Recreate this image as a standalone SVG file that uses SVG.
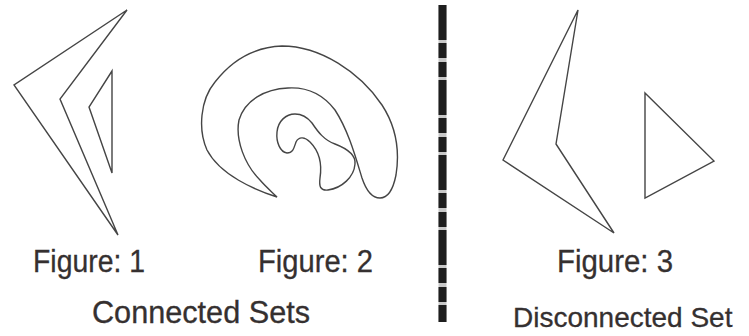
<svg xmlns="http://www.w3.org/2000/svg" width="749" height="336" viewBox="0 0 749 336">
  <style>
    .shape { fill: none; stroke: #454545; stroke-width: 1.4; stroke-linejoin: miter; }
    .label { font-family: "Liberation Sans", Arial, sans-serif; font-size: 31px; fill: #353030; stroke: #353030; stroke-width: 0.3; }
  </style>
  <rect width="749" height="336" fill="#ffffff"/>

  <g id="figure1">
    <polygon class="shape" points="127,10 14,85 118,235 60,99"/>
    <polygon class="shape" points="112,71 89,107 112,173"/>
  </g>

  <g id="figure2">
    <path class="shape" d="M277,197 C255,190 220,175 207,150 C198,130 200,100 215,82 C232,60 255,47 282,46 C320,46 360,72 382,105 C395,125 400,150 396,175 C393,190 387,198 380,198 C372,198 366,190 362,178 C355,155 348,130 335,110 C322,93 305,87 288,88 C265,89 245,100 239,120 C235,140 245,165 260,180 C266,187 272,192 277,197 Z"/>
    <path class="shape" d="M295,114 C303,114 308,118 312,123 C318,132 324,140 335,144 C348,149 356,155 355,164 C354,177 342,188 328,190 C320,191 319,186 320,178 C322,165 320,152 310,142 C305,137 299,136 296,142 C294,148 293,153 287,153 C280,152 276,142 277,132 C278,121 286,114 295,114 Z"/>
  </g>

  <g id="divider">
    <line x1="442.5" y1="5" x2="442.5" y2="322" stroke="#c8c8c8" stroke-width="8"/>
    <line x1="442.5" y1="5" x2="442.5" y2="322" stroke="#1e1e1e" stroke-width="8" stroke-dasharray="35 3 15 4 15 3"/>
  </g>

  <g id="figure3">
    <polygon class="shape" points="578,10 503,160 614,233 556,144"/>
    <polygon class="shape" points="645,93 714,161 645,198"/>
  </g>

  <g id="labels">
    <text class="label" x="33" y="272" textLength="112" lengthAdjust="spacingAndGlyphs">Figure: 1</text>
    <text class="label" x="258" y="272" textLength="115" lengthAdjust="spacingAndGlyphs">Figure: 2</text>
    <text class="label" x="557" y="272" textLength="116" lengthAdjust="spacingAndGlyphs">Figure: 3</text>
    <text class="label" x="92" y="323" textLength="218" lengthAdjust="spacingAndGlyphs">Connected Sets</text>
    <text class="label" x="513" y="327" style="font-size:28px">Disconnected Set</text>
  </g>
</svg>
